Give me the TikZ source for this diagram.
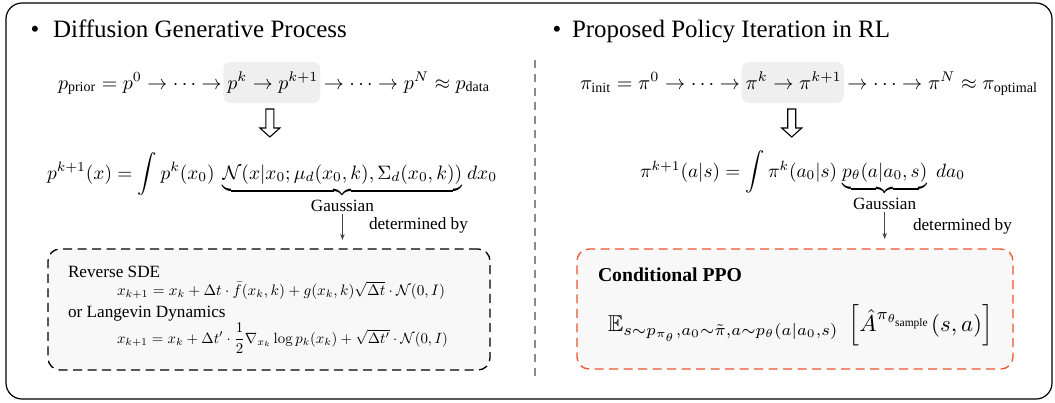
\documentclass[tikz,border=0pt]{standalone}
\usepackage{amsmath,amssymb}
\usepackage{graphicx}
\usepackage[no-math]{fontspec}
\setmainfont{Liberation Serif}
\usetikzlibrary{backgrounds,calc,arrows.meta}
\definecolor{hl}{HTML}{EFEFEF}
\definecolor{boxfill}{HTML}{F8F8F8}
\definecolor{ppored}{HTML}{E85530}
\definecolor{divgray}{HTML}{8A8A8A}
\definecolor{arrgray}{HTML}{444444}
\newlength\wtmp
\newcommand\setscale[3]{\settowidth\wtmp{#3}\pgfmathsetmacro#1{#2/\wtmp}}
\newcommand\rAa{p_{\text{prior}} = p^0 \to \cdots \to{}}
\newcommand\rAb{p^k \to p^{k+1}}
\newcommand\rAc{{}\to \cdots \to p^N \approx p_{\text{data}}}
\newcommand\rBa{\pi_{\text{init}} = \pi^0 \to \cdots \to{}}
\newcommand\rBb{\pi^k \to \pi^{k+1}}
\newcommand\rBc{{}\to \cdots \to \pi^N \approx \pi_{\text{optimal}}}
\newcommand\eqLa{p^{k+1}(x) = {\displaystyle\int}\, p^k(x_0)}
\newcommand\eqLb{\underbrace{\mathcal{N}(x|x_0;\mu_d(x_0,k),\Sigma_d(x_0,k))}}
\newcommand\eqLc{dx_0}
\newcommand\eqRa{\pi^{k+1}(a|s) = {\displaystyle\int}\, \pi^k(a_0|s)}
\newcommand\eqRb{\underbrace{p_\theta(a|a_0,s)}}
\newcommand\eqRc{da_0}
\newcommand\eqSDE{x_{k+1} = x_k + \Delta t\cdot \bar{f}(x_k,k) + g(x_k,k)\sqrt{\Delta t}\cdot\mathcal{N}(0,I)}
\newcommand\eqLang{x_{k+1} = x_k + \Delta t'\cdot \dfrac{1}{2}\nabla_{x_k}\log p_k(x_k) + \sqrt{\Delta t'}\cdot\mathcal{N}(0,I)}
\newcommand\eqPPO{\mathbb{E}_{s\sim p_{\pi_\theta},a_0\sim\tilde{\pi},a\sim p_\theta(a|a_0,s)}\;\left[\hat{A}^{\pi_{\theta_{\text{sample}}}}(s,a)\right]}
\tikzset{
  every node/.style={inner sep=0pt, outer sep=0pt},
  titletext/.style={font=\fontsize{25}{30}\selectfont, anchor=base west},
  bul/.style={font=\fontsize{25}{30}\selectfont, anchor=base},
  eqn/.style={anchor=base west},
  lbl/.style={font=\fontsize{17.2}{20}\selectfont, anchor=base west},
  gauss/.style={font=\fontsize{17.2}{20}\selectfont, anchor=north},
  dashbox/.style={draw, line width=1.3pt, dash pattern=on 9pt off 5.5pt, rounded corners=12pt, fill=boxfill},
  hlbox/.style={fill=hl, rounded corners=7pt},
  arr/.style={draw=arrgray, line width=0.8pt, -{Stealth[length=6pt,width=4.5pt]}},
  hollow/.pic={\draw[fill=white, line width=1.1pt, line join=miter] (-4,0) -- (4,0) -- (4,19) -- (10,19) -- (0,28) -- (-10,19) -- (-4,19) -- cycle;}
}
\begin{document}
\setscale\sA{432}{$\rAa\rAb\rAc$}%
\setscale\sB{458}{$\rBa\rBb\rBc$}%
\setscale\sC{437}{\mbox{$\eqLa$}\mbox{$\eqLb$}\mbox{$\eqLc$}}%
\setscale\sD{311}{\mbox{$\eqRa$}\mbox{$\eqRb$}\mbox{$\eqRc$}}%
\setscale\sE{328}{$\eqSDE$}%
\setscale\sF{331}{$\eqLang$}%
\setscale\sG{385}{$\eqPPO$}%
\begin{tikzpicture}[x=1pt,y=-1pt]
\useasboundingbox (0,0) rectangle (1055,402);
\draw[line width=1.2pt, rounded corners=16pt] (6,3) rectangle (1052,399);

% titles
\node[bul] (bL) at (35,37) {\textbullet};
\node[titletext] (tL) at (53,37) {Diffusion Generative Process};
\node[bul] (bR) at (557,37) {\textbullet};
\node[titletext] (tR) at (572,37) {Proposed Policy Iteration in RL};

% row 1 left
\node[eqn] (r1a) at (58,89) {\scalebox{\sA}{$\rAa$}};
\node[eqn] (r1b) at (r1a.base east) {\scalebox{\sA}{$\rAb$}};
\node[eqn] (r1c) at (r1b.base east) {\scalebox{\sA}{$\rAc$}};
% row 1 right
\node[eqn] (q1a) at (580,89) {\scalebox{\sB}{$\rBa$}};
\node[eqn] (q1b) at (q1a.base east) {\scalebox{\sB}{$\rBb$}};
\node[eqn] (q1c) at (q1b.base east) {\scalebox{\sB}{$\rBc$}};
\begin{scope}[on background layer]
  \fill[hlbox] ([xshift=-4pt]r1b.west |- 0,62) rectangle ([xshift=2pt]r1b.east |- 0,103);
  \fill[hlbox] ([xshift=-4pt]q1b.west |- 0,62) rectangle ([xshift=2pt]q1b.east |- 0,103);
\end{scope}

% hollow arrows
\pic at ([xshift=-3pt]r1b.south |- 0,109) {hollow};
\pic at ([xshift=-2pt]q1b.south |- 0,109) {hollow};

% row 2 left
\node[eqn] (r2a) at (47,179) {\scalebox{\sC}{$\eqLa$}};
\node[eqn] (r2b) at ([xshift=8pt]r2a.base east) {\scalebox{\sC}{$\eqLb$}};
\node[eqn] (r2c) at ([xshift=5pt]r2b.base east) {\scalebox{\sC}{$\eqLc$}};
% row 2 right
\node[eqn] (q2a) at (640,177) {\scalebox{\sD}{$\eqRa$}};
\node[eqn] (q2b) at ([xshift=5pt]q2a.base east) {\scalebox{\sD}{$\eqRb$}};
\node[eqn] (q2c) at ([xshift=9pt]q2b.base east) {\scalebox{\sD}{$\eqRc$}};

\node[gauss] (gL) at ([yshift=-2pt]r2b.south) {Gaussian};
\node[gauss] (gR) at ([yshift=-2pt]q2b.south) {Gaussian};
\node[lbl] (dL) at (369,229) {determined by};
\node[lbl] (dR) at (913,230) {determined by};

% boxes
\node[dashbox, minimum width=442pt, minimum height=121pt] (bxL) at (269,309.5) {};
\node[dashbox, draw=ppored, minimum width=436pt, minimum height=120pt] (bxR) at (795,309) {};

\draw[arr] ([yshift=-3pt]gL.south) -- ([yshift=9pt]gL.south |- bxL.north);
\draw[arr] ([yshift=-3pt]gR.south) -- ([yshift=10pt]gR.south |- bxR.north);

% left box contents
\node[lbl] (rsde) at (68,277) {Reverse SDE};
\node[eqn] (e1) at (117,295) {\scalebox{\sE}{$\eqSDE$}};
\node[lbl] (lang) at (68,317) {or Langevin Dynamics};
\node[eqn] (e2) at (117,343) {\scalebox{\sF}{$\eqLang$}};

% right box contents
\node[lbl, font=\fontsize{19.7}{22}\selectfont\bfseries] (cppo) at (598,281) {Conditional PPO};
\node[eqn] (e3) at (608,331) {\scalebox{\sG}{$\eqPPO$}};

% divider
\draw[divgray, line width=1.5pt, dash pattern=on 8pt off 6pt] (535,60) -- (535,378);
\end{tikzpicture}
\end{document}
